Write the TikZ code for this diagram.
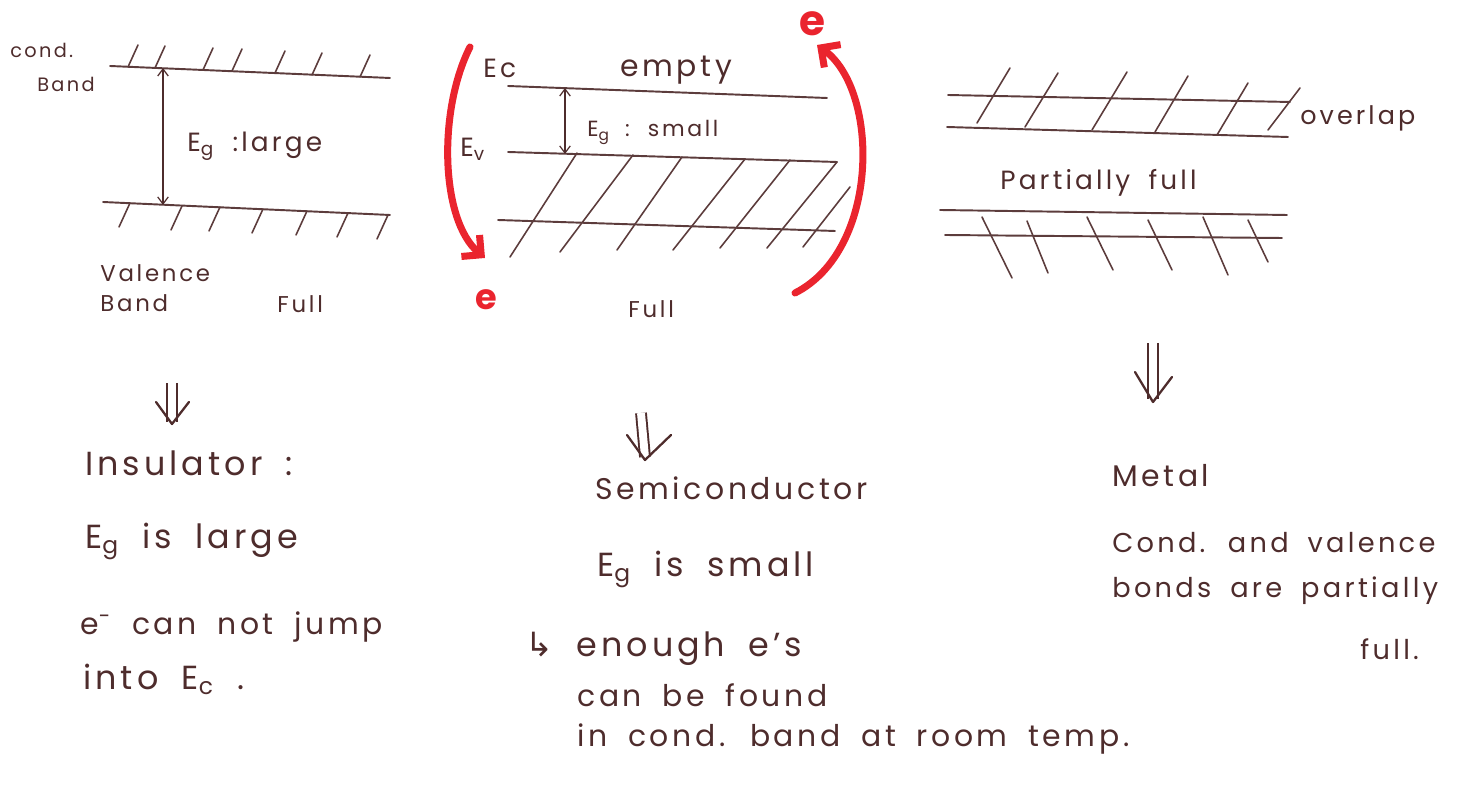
\documentclass[tikz,border=0pt]{standalone}
\usepackage{fontspec}
\setmainfont[LetterSpace=12, WordSpace=1.8]{Poppins}
\newfontfamily\symfont{DejaVu Sans}
\usetikzlibrary{arrows.meta}
\definecolor{ink}{RGB}{78,44,44}
\definecolor{pen}{RGB}{92,60,60}
\definecolor{marker}{RGB}{234,36,46}

\begin{document}
\begin{tikzpicture}[x=0.02cm, y=-0.02cm,
  band/.style={draw=pen, line width=1.1pt, line cap=round},
  hatch/.style={draw=pen, line width=0.9pt, line cap=round},
  lbl/.style={anchor=base west, inner sep=0pt, text=ink, font=\fontsize{13}{15}\selectfont},
  note/.style={lbl, font=\fontsize{17}{20}\selectfont},
  gap/.style={draw=ink, line width=0.7pt, {Straight Barb[length=4pt,width=6pt]}-{Straight Barb[length=4pt,width=6pt]}},
  jump/.style={draw=marker, line width=4pt, line cap=round, -{Straight Barb[length=8pt,width=16pt]}},
  elec/.style={text=marker, inner sep=0pt, font=\fontsize{24}{24}\bfseries\selectfont},
  imply/.style={draw=ink, line width=1.1pt, double=white, double distance=4.5pt},
  vhead/.style={draw=ink, line width=1.3pt, line cap=round, line join=round}]
  \useasboundingbox (0,0) rectangle (1458,786);

  % insulator
  \draw[band] (110,66) -- (390,78);
  \draw[band] (103,202) -- (390,215);
  \foreach \x/\y in {128/67,155/68,203/70,232/71,275/73,312/75,360/77}
    \draw[hatch] (\x,\y) -- ++(10,-22);
  \foreach \x/\y in {130/203,182/206,220/207,263/209,307/211,348/213,388/215}
    \draw[hatch] (\x,\y) -- ++(-11,24);
  \coordinate (cb1) at (163,68);
  \coordinate (vb1) at (163,205);
  \draw[gap] (cb1) -- (vb1);
  \node[lbl, font=\fontsize{11}{13}\selectfont] (cond1) at (10,58) {cond.};
  \node[lbl, font=\fontsize{11}{13}\selectfont] (band1) at (37,92) {Band};
  \node[lbl, font=\fontsize{15}{17}\selectfont] (gap1) at (187,152) {E\textsubscript{g} :large};
  \node[lbl] (val1) at (100,282) {Valence};
  \node[lbl] (band2) at (100,312) {Band};
  \node[lbl] (full1) at (277,313) {Full};

  % semiconductor
  \draw[band] (508,86) -- (827,98);
  \draw[band] (508,152) -- (837,162);
  \draw[band] (498,220) -- (835,231);
  \foreach \xa/\ya/\xb/\yb in {510/257/577/153,560/252/633/155,617/250/682/157,
      673/250/745/159,720/248/790/160,767/248/837/162,803/247/850/187}
    \draw[hatch] (\xa,\ya) -- (\xb,\yb);
  \coordinate (cb2) at (565,88);
  \coordinate (vb2) at (565,154);
  \draw[gap] (cb2) -- (vb2);
  \node[lbl, font=\fontsize{15}{17}\selectfont] (ec) at (483,78) {Ec};
  \node[lbl, font=\fontsize{17}{19}\selectfont] (empty) at (620,77) {empty};
  \node[lbl, font=\fontsize{12.5}{14}\selectfont] (gap2) at (587,137) {E\textsubscript{g} : small};
  \node[lbl, font=\fontsize{15}{17}\selectfont] (ev) at (460,157) {E\textsubscript{v}};
  \node[lbl] (full2) at (628,318) {Full};
  \node[elec] (etop) at (812,24) {e};
  \node[elec, font=\fontsize{20}{20}\bfseries\selectfont] (ebot) at (486,300) {e};
  \coordinate (dropA) at (470,47);
  \coordinate (dropB) at (485,258);
  \draw[jump] (dropA) .. controls (438,110) and (440,220) .. (dropB);
  \coordinate (riseA) at (795,293);
  \coordinate (riseB) at (817,45);
  \draw[jump] (riseA) .. controls (880,250) and (880,90) .. (riseB);

  % metal
  \draw[band] (948,95) -- (1290,102);
  \draw[band] (947,127) -- (1288,137);
  \draw[band] (940,210) -- (1287,215);
  \draw[band] (945,235) -- (1282,238);
  \foreach \xa/\ya/\xb/\yb in {977/123/1010/68,1025/127/1058/73,1092/130/1127/72,
      1155/132/1188/76,1217/135/1248/83,1268/130/1300/88}
    \draw[hatch] (\xa,\ya) -- (\xb,\yb);
  \foreach \xa/\ya/\xb/\yb in {982/217/1012/278,1027/221/1048/273,1087/217/1113/270,
      1148/220/1172/270,1203/217/1228/275,1248/220/1268/262}
    \draw[hatch] (\xa,\ya) -- (\xb,\yb);
  \node[lbl, font=\fontsize{14.5}{17}\selectfont] (overlap) at (1300,125) {overlap};
  \node[lbl, font=\fontsize{15}{17}\selectfont] (partial) at (1000,190) {Partially full};

  % conclusions
  \coordinate (insT) at (172,383);
  \coordinate (insB) at (172,422);
  \draw[imply] (insT) -- (insB);
  \draw[vhead] (insB) ++(-16,-20) -- ++(16,22) -- ++(17,-22);
  \node[note, font=\fontsize{19}{22}\selectfont] (ins1) at (85,476) {Insulator :};
  \node[note, font=\fontsize{19}{22}\selectfont] (ins2) at (85,549) {E\textsubscript{g} is large};
  \node[note] (ins3) at (80,635) {e\textsuperscript{-} can not jump};
  \node[note, font=\fontsize{19}{22}\selectfont] (ins4) at (83,690) {into E\textsubscript{c} .};

  \coordinate (semT) at (641,413);
  \coordinate (semB) at (645,457);
  \draw[imply] (semT) -- (semB);
  \draw[vhead] (semB) ++(-18,-22) -- ++(18,25) -- ++(26,-25);
  \node[note] (sem1) at (595,500) {Semiconductor};
  \node[note, font=\fontsize{19}{22}\selectfont] (sem2) at (597,577) {E\textsubscript{g} is small};
  \node[note, font=\fontsize{19}{22}\selectfont] (sem3) at (525,657) {{\symfont ↳} enough e's};
  \node[note] (sem4) at (577,707) {can be found};
  \node[note] (sem5) at (577,747) {in cond. band at room temp.};

  \coordinate (metT) at (1153,343);
  \coordinate (metB) at (1153,399);
  \draw[imply] (metT) -- (metB);
  \draw[vhead] (metB) ++(-18,-27) -- ++(18,30) -- ++(19,-25);
  \node[note] (met1) at (1112,487) {Metal};
  \node[note, font=\fontsize{15.5}{18}\selectfont] (met2) at (1112,553) {Cond. and valence};
  \node[note, font=\fontsize{15.5}{18}\selectfont] (met3) at (1112,598) {bonds are partially};
  \node[note, font=\fontsize{15.5}{18}\selectfont] (met4) at (1360,660) {full.};
\end{tikzpicture}
\end{document}
